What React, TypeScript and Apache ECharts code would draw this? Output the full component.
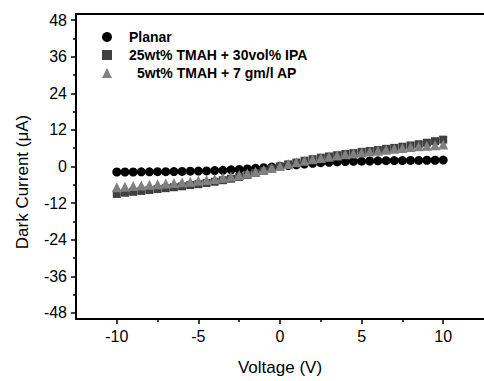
import React, { useEffect, useRef } from "react";
import * as echarts from "echarts";

const voltage = [
  -10, -9.5, -9, -8.5, -8, -7.5, -7, -6.5, -6, -5.5, -5, -4.5, -4, -3.5, -3, -2.5, -2, -1.5, -1, -0.5,
  0, 0.5, 1, 1.5, 2, 2.5, 3, 3.5, 4, 4.5, 5, 5.5, 6, 6.5, 7, 7.5, 8, 8.5, 9, 9.5, 10,
];

const planar = [
  -1.8, -1.8, -1.8, -1.75, -1.75, -1.7, -1.7, -1.65, -1.6, -1.55, -1.5, -1.45, -1.35, -1.25, -1.1, -0.95,
  -0.8, -0.6, -0.4, -0.2, 0.05, 0.3, 0.55, 0.8, 1.05, 1.25, 1.4, 1.5, 1.6, 1.7, 1.75, 1.8, 1.85, 1.9,
  1.95, 1.95, 2.0, 2.0, 2.05, 2.05, 2.1,
];

const tmahIpa = [
  -9.0, -8.6, -8.3, -8.0, -7.7, -7.4, -7.1, -6.8, -6.5, -6.1, -5.8, -5.4, -5.0, -4.5, -4.0, -3.4, -2.8,
  -2.1, -1.4, -0.7, 0, 0.7, 1.3, 1.9, 2.4, 2.9, 3.3, 3.7, 4.1, 4.4, 4.8, 5.1, 5.4, 5.8, 6.1, 6.5, 6.9,
  7.3, 7.8, 8.3, 8.8,
];

const tmahAp = [
  -6.8, -6.6, -6.4, -6.2, -6.0, -5.8, -5.6, -5.4, -5.2, -5.0, -4.7, -4.4, -4.1, -3.7, -3.3, -2.8, -2.3,
  -1.7, -1.1, -0.5, 0.2, 0.8, 1.4, 1.9, 2.4, 2.8, 3.2, 3.6, 4.0, 4.3, 4.6, 4.9, 5.2, 5.5, 5.8, 6.1, 6.4,
  6.6, 6.8, 7.0, 7.2,
];

const seriesNames = ["Planar", "25wt% TMAH + 30vol% IPA", "5wt% TMAH + 7 gm/l AP"];
const yMajorTicks = [-48, -36, -24, -12, 0, 12, 24, 36, 48];
const yMinorTicks = [-42, -30, -18, -6, 6, 18, 30, 42];
const xMajorTicks = [-10, -5, 0, 5, 10];
const xMinorTicks = [-7.5, -2.5, 2.5, 7.5];

const FONT = "Arial, 'Liberation Sans', sans-serif";

export default function App() {
  const ref = useRef<HTMLDivElement>(null);

  useEffect(() => {
    if (!ref.current) return;
    const chart = echarts.init(ref.current, undefined, { renderer: "svg" });
    const pairs = (ys: number[]) => voltage.map((v, i) => [v, ys[i]]);
    const axisLine = { show: true, onZero: false, lineStyle: { color: "#000", width: 2 } };
    const noLine = { show: false, onZero: false };
    chart.setOption({
      animation: false,
      backgroundColor: "#fff",
      grid: { left: 76, top: 14, bottom: 56, right: -10 },
      legend: {
        orient: "vertical",
        left: 102,
        top: 30,
        padding: 0,
        itemWidth: 10,
        itemHeight: 10,
        itemGap: 4,
        data: [
          { name: seriesNames[0], icon: "circle" },
          { name: seriesNames[1], icon: "rect" },
          { name: seriesNames[2], icon: "triangle" },
        ],
        formatter: (name: string) => (name === seriesNames[2] ? `{c|${name}}` : `{a|${name}}`),
        textStyle: {
          fontFamily: FONT,
          fontWeight: "bold",
          fontSize: 14,
          color: "#000",
          rich: {
            a: { fontFamily: FONT, fontWeight: "bold", fontSize: 14, lineHeight: 15, color: "#000", padding: [0, 0, 0, 12] },
            c: { fontFamily: FONT, fontWeight: "bold", fontSize: 14, lineHeight: 15, color: "#000", padding: [0, 0, 0, 20] },
          },
        },
      },
      xAxis: [
        {
          type: "value",
          position: "bottom",
          min: -12.5,
          max: 12.5,
          axisLine,
          splitLine: { show: false },
          axisTick: { show: true, inside: false, length: 5, customValues: xMajorTicks, lineStyle: { color: "#000", width: 1.5 } },
          axisLabel: { customValues: xMajorTicks, margin: 9, fontSize: 16, fontFamily: FONT, color: "#000" },
          name: "Voltage (V)",
          nameLocation: "middle",
          nameGap: 40,
          nameTextStyle: { fontSize: 17, fontFamily: FONT, color: "#000" },
        },
        {
          type: "value",
          position: "bottom",
          min: -12.5,
          max: 12.5,
          axisLine: noLine,
          splitLine: { show: false },
          axisTick: { show: true, inside: false, length: 3, customValues: xMinorTicks, lineStyle: { color: "#000", width: 1.5 } },
          axisLabel: { show: false },
        },
        {
          type: "value",
          position: "top",
          min: -12.5,
          max: 12.5,
          axisLine,
          splitLine: { show: false },
          axisTick: { show: false },
          axisLabel: { show: false },
        },
      ],
      yAxis: [
        {
          type: "value",
          position: "left",
          min: -50,
          max: 50,
          axisLine,
          splitLine: { show: false },
          axisTick: { show: true, inside: false, length: 5, customValues: yMajorTicks, lineStyle: { color: "#000", width: 1.5 } },
          axisLabel: { customValues: yMajorTicks, margin: 9, fontSize: 16, fontFamily: FONT, color: "#000" },
        },
        {
          type: "value",
          position: "left",
          min: -50,
          max: 50,
          axisLine: noLine,
          splitLine: { show: false },
          axisTick: { show: true, inside: false, length: 3, customValues: yMinorTicks, lineStyle: { color: "#000", width: 1.5 } },
          axisLabel: { show: false },
        },
      ],
      graphic: [
        {
          type: "text",
          x: 22,
          y: 182,
          rotation: Math.PI / 2,
          style: {
            text: "Dark Current (μA)",
            fontSize: 17,
            fontFamily: FONT,
            fill: "#000",
            align: "center",
            verticalAlign: "middle",
          },
        },
      ],
      series: [
        {
          name: seriesNames[0],
          type: "scatter",
          symbol: "circle",
          symbolSize: 9,
          itemStyle: { color: "#000", opacity: 1 },
          data: pairs(planar),
          z: 2,
        },
        {
          name: seriesNames[1],
          type: "scatter",
          symbol: "rect",
          symbolSize: 8,
          itemStyle: { color: "#404040", opacity: 1 },
          data: pairs(tmahIpa),
          z: 3,
        },
        {
          name: seriesNames[2],
          type: "scatter",
          symbol: "triangle",
          symbolSize: 10,
          itemStyle: { color: "#808080", opacity: 1 },
          data: pairs(tmahAp),
          z: 4,
        },
      ],
    });
    return () => chart.dispose();
  }, []);

  return (
    <div
      ref={ref}
      style={{ position: "fixed", left: 0, top: 0, width: 484, height: 381, background: "#fff" }}
    />
  );
}
